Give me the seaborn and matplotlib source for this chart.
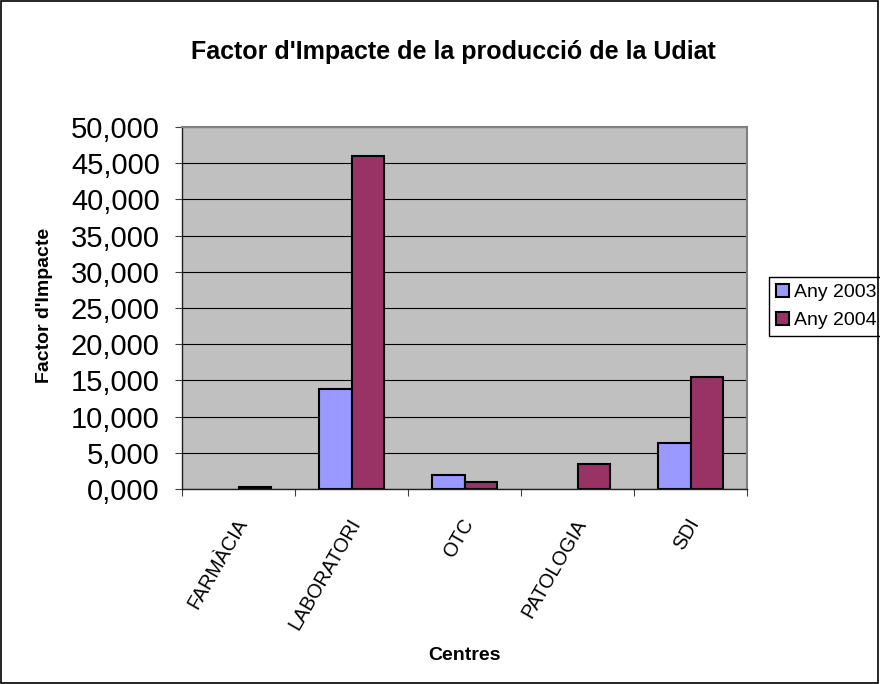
import matplotlib
matplotlib.use("Agg")
import matplotlib.pyplot as plt
import matplotlib.patches as mpatches
from matplotlib.transforms import ScaledTranslation
from matplotlib.ticker import FuncFormatter, FixedLocator
import seaborn as sns
import pandas as pd
import numpy as np

centres = ["FARMÀCIA", "LABORATORI", "OTC", "PATOLOGIA", "SDI"]
any_2003 = [np.nan, 13.8, 1.9, np.nan, 6.3]
any_2004 = [0.3, 46.0, 1.0, 3.4, 15.5]
series_names = ["Any 2003", "Any 2004"]
colors = ["#9999FF", "#993366"]

df = pd.DataFrame({
    "Centres": centres * 2,
    "Any": [series_names[0]] * len(centres) + [series_names[1]] * len(centres),
    "FI": any_2003 + any_2004,
})

sns.set_theme(style="white")
plt.rcParams["font.family"] = ["Liberation Sans", "DejaVu Sans"]
plt.rcParams["text.color"] = "black"
plt.rcParams["axes.labelcolor"] = "black"
plt.rcParams["xtick.color"] = "black"
plt.rcParams["ytick.color"] = "black"

fig = plt.figure(figsize=(8.8, 6.84), dpi=100)
ax = fig.add_axes([182/880, 1-489/684, (747-182)/880, (489-127)/684])
ax.set_facecolor("#C0C0C0")

sns.barplot(data=df, x="Centres", y="FI", hue="Any", palette=colors,
            width=0.57, edgecolor="black", linewidth=1.5, ax=ax,
            saturation=1, legend=True)

ax.set_ylim(0, 50)
ax.set_xlim(-0.5, len(centres) - 0.5)
ax.yaxis.set_major_locator(FixedLocator(np.arange(0, 50.1, 5)))
ax.yaxis.set_major_formatter(FuncFormatter(lambda v, p: f"{v:.3f}".replace(".", ",")))
ax.grid(axis="y", color="black", linewidth=0.8)
ax.set_axisbelow(True)
ax.tick_params(axis="y", labelsize=21, length=5, width=0.8, direction="out",
               left=True, color="#404040", labelcolor="black", pad=11)
ax.tick_params(axis="x", which="major", length=0, labelsize=14.2, pad=19,
               labelcolor="black")
ax.set_xticks(range(len(centres)))
ax.set_xticklabels(centres, rotation=60, ha="right", rotation_mode="anchor")
ax.set_xticks(np.arange(-0.5, len(centres), 1), minor=True)
ax.tick_params(axis="x", which="minor", length=5, width=0.8, color="#404040",
               direction="out", bottom=True)
shift = ScaledTranslation(-4/100, 0, fig.dpi_scale_trans)
for lbl in ax.get_xticklabels():
    lbl.set_transform(lbl.get_transform() + shift)
for name, s in ax.spines.items():
    s.set_visible(True)
    if name in ("left", "bottom"):
        s.set_color("#202020")
        s.set_linewidth(1)
    else:
        s.set_color("#808080")
        s.set_linewidth(1.5)

ax.set_xlabel("Centres", fontsize=14, fontweight="bold", color="black")
ax.xaxis.set_label_coords(0.5, (489-655)/362)
ax.xaxis.label.set_va("center")
ax.set_ylabel("Factor d'Impacte", fontsize=14, fontweight="bold", color="black")
ax.yaxis.set_label_coords((45-182)/565, (489-305.5)/362)
ax.yaxis.label.set_va("center")

fig.text(453/880, 1-58.6/684, "Factor d'Impacte de la producció de la Udiat",
         ha="center", va="baseline", fontsize=18, fontweight="bold",
         color="black")

leg = ax.legend(loc="upper left", bbox_to_anchor=(769/880, 1-277/684),
                bbox_transform=fig.transFigure, frameon=True, fancybox=False,
                edgecolor="black", fontsize=14, handlelength=0.67,
                handleheight=0.67, handletextpad=0.26, borderpad=0.35,
                borderaxespad=0, labelspacing=0.55, framealpha=1)
leg.get_frame().set_linewidth(1)
for t in leg.get_texts():
    t.set_color("black")
for h in leg.legend_handles:
    h.set_edgecolor("black")
    h.set_linewidth(1.5)

fig.patches.append(mpatches.Rectangle((0.001, 0.001), 0.997, 0.997,
                   transform=fig.transFigure, fill=False,
                   edgecolor="black", linewidth=1.2))

fig.savefig("out.png", dpi=100, facecolor="white")
